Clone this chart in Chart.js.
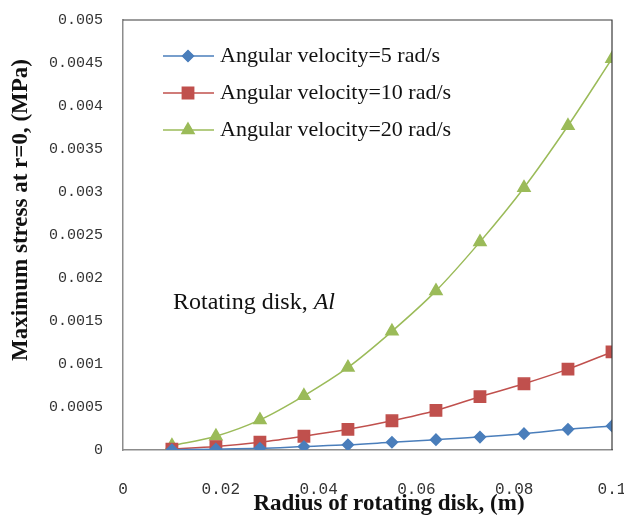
<!DOCTYPE html>
<html>
<head>
<meta charset="utf-8">
<script src="https://cdn.jsdelivr.net/npm/chart.js@4"></script>
<style>
  html, body { margin: 0; padding: 0; background: #fff; }
  #wrap { width: 624px; height: 517px; position: relative; }
</style>
</head>
<body>
<div id="wrap"><canvas id="stressChart"></canvas></div>
<script>
// radius of disk (m) and max stress at r=0 (MPa)
const radius = [0.01, 0.019, 0.028, 0.037, 0.046, 0.055, 0.064, 0.073, 0.082, 0.091, 0.1];
const stressW5 = [0.000003, 0.00001, 0.00002, 0.00004, 0.00006, 0.00009, 0.00012, 0.00015, 0.00019, 0.00024, 0.00028];
const stressW10 = [0.00001, 0.00004, 0.00009, 0.00016, 0.00024, 0.00034, 0.00046, 0.00062, 0.00077, 0.00094, 0.00114];
const stressW20 = [0.00005, 0.00016, 0.00035, 0.00063, 0.00096, 0.00138, 0.00185, 0.00242, 0.00305, 0.00377, 0.00455];
const seriesLabels = ['Angular velocity=5 rad/s', 'Angular velocity=10 rad/s', 'Angular velocity=20 rad/s'];
const xTickLabels = ['0', '0.02', '0.04', '0.06', '0.08', '0.1'];
const yTickLabels = ['0', '0.0005', '0.001', '0.0015', '0.002', '0.0025', '0.003', '0.0035', '0.004', '0.0045', '0.005'];
const xTitle = 'Radius of rotating disk, (m)';
const yTitle = 'Maximum stress at r=0, (MPa)';

const toPoints = vals => vals.map((v, i) => ({ x: radius[i], y: v }));

function series(label, vals, color, style, r) {
  return {
    label, data: toPoints(vals),
    borderColor: color, backgroundColor: color,
    pointStyle: style, pointRadius: r, pointHoverRadius: r,
    borderWidth: 1.5, cubicInterpolationMode: 'monotone', fill: false
  };
}

// box lines, legend inside the plot, note text and axis titles (Excel places them off-centre)
const framePlugin = {
  id: 'frame',
  afterDraw(chart) {
    const { ctx, chartArea: a } = chart;
    ctx.save();
    ctx.strokeStyle = '#3a3a3a';
    ctx.lineWidth = 1.2;
    ctx.beginPath();
    ctx.moveTo(a.left, a.top); ctx.lineTo(a.right, a.top); ctx.lineTo(a.right, a.bottom);
    ctx.stroke();

    // legend
    const rowY = [56, 93, 130];
    ctx.font = '22px "Liberation Serif"';
    ctx.textBaseline = 'middle';
    chart.data.datasets.forEach((ds, i) => {
      const y = rowY[i];
      ctx.strokeStyle = ds.borderColor; ctx.lineWidth = 1.5;
      ctx.beginPath(); ctx.moveTo(163, y); ctx.lineTo(214, y); ctx.stroke();
      ctx.fillStyle = ds.borderColor;
      Chart.helpers.drawPoint(ctx, { pointStyle: ds.pointStyle, radius: ds.pointRadius, borderWidth: 1 }, 188, y);
      ctx.fill();
      ctx.fillStyle = '#111';
      ctx.fillText(ds.label, 220, y);
    });

    // note
    ctx.font = '24px "Liberation Serif"';
    ctx.fillStyle = '#111';
    const t1 = 'Rotating disk, ';
    ctx.fillText(t1, 173, 303);
    const w = ctx.measureText(t1).width;
    ctx.font = 'italic 24px "Liberation Serif"';
    ctx.fillText('Al', 173 + w, 303);

    // axis titles
    ctx.font = 'bold 23px "Liberation Serif"';
    ctx.textAlign = 'center';
    ctx.fillText(xTitle, 389, 504);
    ctx.translate(21, 210);
    ctx.rotate(-Math.PI / 2);
    ctx.fillText(yTitle, 0, 0);
    ctx.restore();
  }
};

new Chart(document.getElementById('stressChart'), {
  type: 'line',
  data: {
    datasets: [
      series(seriesLabels[0], stressW5, '#4a7ebb', 'rectRot', 5.5),
      series(seriesLabels[1], stressW10, '#c0504d', 'rect', 8),
      series(seriesLabels[2], stressW20, '#9bbb59', 'triangle', 7)
    ]
  },
  options: {
    responsive: true, maintainAspectRatio: false, animation: false,
    layout: { padding: { top: 20, right: 12, left: 0, bottom: 0 } },
    plugins: { legend: { display: false }, tooltip: { enabled: false } },
    scales: {
      x: {
        type: 'linear', min: 0, max: 0.1,
        afterFit: s => { s.height = 67; s.paddingRight = 0; s.paddingLeft = 0; },
        grid: { display: false, drawTicks: false },
        border: { display: true, color: '#8c8c8c', width: 1.5 },
        ticks: {
          stepSize: 0.02, padding: 30, color: '#333',
          font: { family: '"Liberation Mono"', size: 16 },
          callback: (v, i) => xTickLabels[i]
        }
      },
      y: {
        min: 0, max: 0.005,
        afterFit: s => { s.width = 123; s.paddingTop = 0; s.paddingBottom = 0; },
        grid: { display: false, drawTicks: false },
        border: { display: true, color: '#8c8c8c', width: 1.5 },
        ticks: {
          stepSize: 0.0005, padding: 20, color: '#333',
          font: { family: '"Liberation Mono"', size: 15 },
          callback: (v, i) => yTickLabels[i]
        }
      }
    }
  },
  plugins: [framePlugin]
});
</script>
</body>
</html>
